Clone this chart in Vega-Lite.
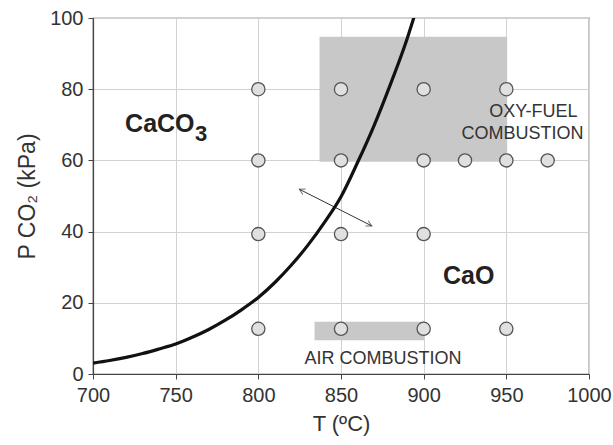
{
  "$schema": "https://vega.github.io/schema/vega-lite/v6.json",
  "width": 496,
  "height": 356,
  "autosize": "none",
  "padding": {"left": 93, "top": 18, "right": 24, "bottom": 71},
  "background": "white",
  "config": {
    "font": "Liberation Sans",
    "view": {"stroke": "#444", "strokeWidth": 1.2}
  },
  "datasets": {
    "zones": [
      {"zone": "oxy", "x": 837, "x2": 950.5, "y": 59.6, "y2": 94.7},
      {"zone": "air", "x": 834, "x2": 900.2, "y": 9.5, "y2": 14.7}
    ],
    "curve": [
      {"x": 700, "y": 3.06}, {"x": 710, "y": 3.79}, {"x": 720, "y": 4.67},
      {"x": 730, "y": 5.74}, {"x": 740, "y": 7.02}, {"x": 750, "y": 8.4},
      {"x": 760, "y": 10.3}, {"x": 770, "y": 12.5}, {"x": 780, "y": 15.1},
      {"x": 790, "y": 18.1}, {"x": 800, "y": 21.5}, {"x": 810, "y": 25.7},
      {"x": 820, "y": 30.6}, {"x": 830, "y": 36.2}, {"x": 840, "y": 42.6},
      {"x": 850, "y": 49.8}, {"x": 860, "y": 59.4}, {"x": 870, "y": 69.8},
      {"x": 880, "y": 81.5}, {"x": 890, "y": 94.2}, {"x": 895, "y": 101.5}
    ],
    "runs": [
      {"x": 800, "y": 80}, {"x": 850, "y": 80}, {"x": 900, "y": 80}, {"x": 950, "y": 80},
      {"x": 800, "y": 60}, {"x": 850, "y": 60}, {"x": 900, "y": 60}, {"x": 925, "y": 60},
      {"x": 950, "y": 60}, {"x": 975, "y": 60},
      {"x": 800, "y": 39.3}, {"x": 850, "y": 39.3}, {"x": 900, "y": 39.3},
      {"x": 800, "y": 12.7}, {"x": 850, "y": 12.7}, {"x": 900, "y": 12.7}, {"x": 950, "y": 12.7}
    ],
    "arrow": [
      {"x": 824.8, "y": 51.9, "x2": 868.6, "y2": 41.6}
    ],
    "tips": [
      {"end": "left", "x": 824.8, "y": 51.9},
      {"end": "right", "x": 868.6, "y": 41.6}
    ],
    "phases": [
      {"label": "CaCO", "x": 719.4, "y": 68.1},
      {"label": "CaO", "x": 911.7, "y": 25.3}
    ],
    "subs": [
      {"label": "3", "x": 761.7, "y": 65.5}
    ],
    "notes": [
      {"label": "OXY-FUEL", "x": 966.4, "y": 72.3},
      {"label": "COMBUSTION", "x": 959.8, "y": 65.9},
      {"label": "AIR COMBUSTION", "x": 875.4, "y": 2.8}
    ]
  },
  "encoding": {
    "x": {
      "field": "x",
      "type": "quantitative",
      "scale": {"domain": [700, 1000], "nice": false, "zero": false},
      "axis": {
        "values": [700, 750, 800, 850, 900, 950, 1000],
        "format": "d",
        "grid": true,
        "gridColor": "#d2d2d2",
        "gridWidth": 1,
        "domainColor": "#444",
        "domainWidth": 1.2,
        "tickColor": "#444",
        "tickSize": 5,
        "labelFontSize": 20,
        "labelColor": "#333",
        "labelPadding": 6,
        "labelFlush": false,
        "title": "T (ºC)",
        "titleFontSize": 22,
        "titleFontWeight": "normal",
        "titleColor": "#333",
        "titlePadding": 8
      }
    },
    "y": {
      "field": "y",
      "type": "quantitative",
      "scale": {"domain": [0, 100], "nice": false},
      "axis": {
        "values": [0, 20, 40, 60, 80, 100],
        "format": "d",
        "grid": true,
        "gridColor": "#d2d2d2",
        "gridWidth": 1,
        "domainColor": "#444",
        "domainWidth": 1.2,
        "tickColor": "#444",
        "tickSize": 5,
        "labelFontSize": 20,
        "labelColor": "#333",
        "labelPadding": 5,
        "labelFlush": false,
        "title": "P CO₂ (kPa)",
        "titleFontSize": 23,
        "titleFontWeight": "normal",
        "titleColor": "#333",
        "titlePadding": 10
      }
    }
  },
  "layer": [
    {
      "data": {"name": "zones"},
      "mark": {"type": "rect", "color": "#c8c8c8"},
      "encoding": {
        "x2": {"field": "x2"},
        "y2": {"field": "y2"}
      }
    },
    {
      "data": {"name": "arrow"},
      "mark": {"type": "rule", "color": "#333", "strokeWidth": 1},
      "encoding": {
        "x2": {"field": "x2"},
        "y2": {"field": "y2"}
      }
    },
    {
      "data": {"name": "tips"},
      "transform": [{"filter": "datum.end == 'right'"}],
      "mark": {"type": "point", "shape": "M -1 -0.55 L 0 0 L -1 0.55", "filled": false, "color": "#333", "strokeWidth": 1, "size": 120, "angle": 27}
    },
    {
      "data": {"name": "tips"},
      "transform": [{"filter": "datum.end == 'left'"}],
      "mark": {"type": "point", "shape": "M -1 -0.55 L 0 0 L -1 0.55", "filled": false, "color": "#333", "strokeWidth": 1, "size": 120, "angle": 207}
    },
    {
      "data": {"name": "curve"},
      "mark": {"type": "line", "color": "#111", "strokeWidth": 3.2, "clip": true, "interpolate": "monotone"}
    },
    {
      "data": {"name": "runs"},
      "mark": {"type": "point", "shape": "circle", "filled": true, "fill": "#e0e0e0", "fillOpacity": 1, "stroke": "#555", "strokeWidth": 1.3, "size": 175}
    },
    {
      "data": {"name": "phases"},
      "mark": {"type": "text", "align": "left", "baseline": "alphabetic", "fontSize": 25, "fontWeight": "bold", "color": "#222"},
      "encoding": {"text": {"field": "label"}}
    },
    {
      "data": {"name": "subs"},
      "mark": {"type": "text", "align": "left", "baseline": "alphabetic", "fontSize": 22, "fontWeight": "bold", "color": "#222"},
      "encoding": {"text": {"field": "label"}}
    },
    {
      "data": {"name": "notes"},
      "mark": {"type": "text", "align": "center", "baseline": "alphabetic", "fontSize": 18, "color": "#333"},
      "encoding": {"text": {"field": "label"}}
    }
  ]
}
